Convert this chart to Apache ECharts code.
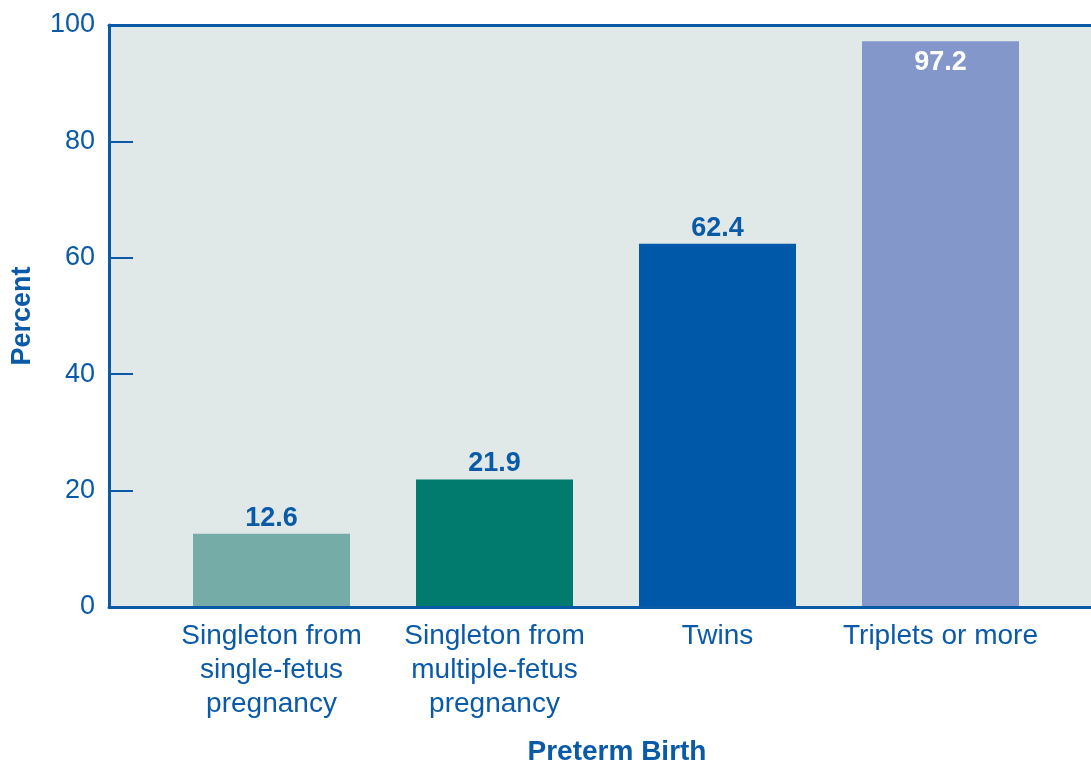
<!DOCTYPE html>
<html>
<head>
<meta charset="utf-8">
<script src="https://cdn.jsdelivr.net/npm/echarts@6/dist/echarts.min.js"></script>
<style>html,body{margin:0;padding:0;background:#fff;}#c{width:1091px;height:761px;}</style>
</head>
<body>
<div id="c"></div>
<script>
const categories = ["Singleton from\nsingle-fetus\npregnancy", "Singleton from\nmultiple-fetus\npregnancy", "Twins", "Triplets or more"];
const values = [12.6, 21.9, 62.4, 97.2];
const barColors = ["#76aca8", "#007b6e", "#0058a8", "#8397cb"];
const yTicks = [0, 20, 40, 60, 80, 100];

const BLUE = "#0a5aa8";
const FONT = "Liberation Sans, Arial, Helvetica, sans-serif";

const chart = echarts.init(document.getElementById('c'));
chart.setOption({
  animation: false,
  grid: [
    {left: 109, right: 0, top: 25, bottom: 154, show: true, backgroundColor: "#e0e9e7", borderWidth: 0,
     containLabel: false, outerBoundsMode: 'none'},
    {left: 160, width: 892, top: 25, bottom: 154, containLabel: false, outerBoundsMode: 'none'}
  ],
  xAxis: [
    {gridIndex: 0, type: 'value', min: 0, max: 1, position: 'bottom', z: 10,
     axisLine: {show: true, lineStyle: {color: BLUE, width: 3}}, axisTick: {show: false}, axisLabel: {show: false}, splitLine: {show: false}},
    {gridIndex: 0, type: 'value', min: 0, max: 1, position: 'top', z: 10,
     axisLine: {show: true, lineStyle: {color: BLUE, width: 3}}, axisTick: {show: false}, axisLabel: {show: false}, splitLine: {show: false}},
    {gridIndex: 1, type: 'category', data: categories,
     axisLine: {show: false}, axisTick: {show: false}, splitLine: {show: false},
     axisLabel: {color: BLUE, fontSize: 28, fontFamily: FONT, lineHeight: 34, margin: 12, interval: 0},
     name: "Preterm Birth", nameLocation: 'middle', nameGap: 131,
     nameTextStyle: {color: BLUE, fontSize: 28, fontWeight: 'bold', fontFamily: FONT, padding: [0, 0, 0, 22]}}
  ],
  yAxis: [
    {gridIndex: 0, type: 'value', min: 0, max: 100, interval: 20, z: 10,
     axisLine: {show: true, lineStyle: {color: BLUE, width: 3}},
     axisTick: {show: true, inside: true, length: 24, lineStyle: {color: BLUE, width: 2}},
     axisLabel: {color: BLUE, fontSize: 27, fontFamily: FONT, margin: 14,
       formatter: function (v) { return yTicks.indexOf(v) >= 0 ? String(v) : ''; }},
     splitLine: {show: false},
     name: "Percent", nameLocation: 'middle', nameGap: 73, nameRotate: 90,
     nameTextStyle: {color: BLUE, fontSize: 27, fontWeight: 'bold', fontFamily: FONT}},
    {gridIndex: 1, type: 'value', min: 0, max: 100, show: false, splitLine: {show: false}}
  ],
  series: [{
    type: 'bar',
    xAxisIndex: 2,
    yAxisIndex: 1,
    barWidth: 157,
    data: values.map(function (v, i) {
      const last = i === values.length - 1;
      return {
        value: v,
        itemStyle: {color: barColors[i]},
        label: last
          ? {show: true, position: 'insideTop', distance: 8, color: '#ffffff'}
          : {show: true, position: 'top', distance: 2, color: BLUE}
      };
    }),
    label: {show: true, fontSize: 27, fontWeight: 'bold', fontFamily: FONT,
      formatter: function (p) { return p.value.toFixed(1); }}
  }]
});
</script>
</body>
</html>
